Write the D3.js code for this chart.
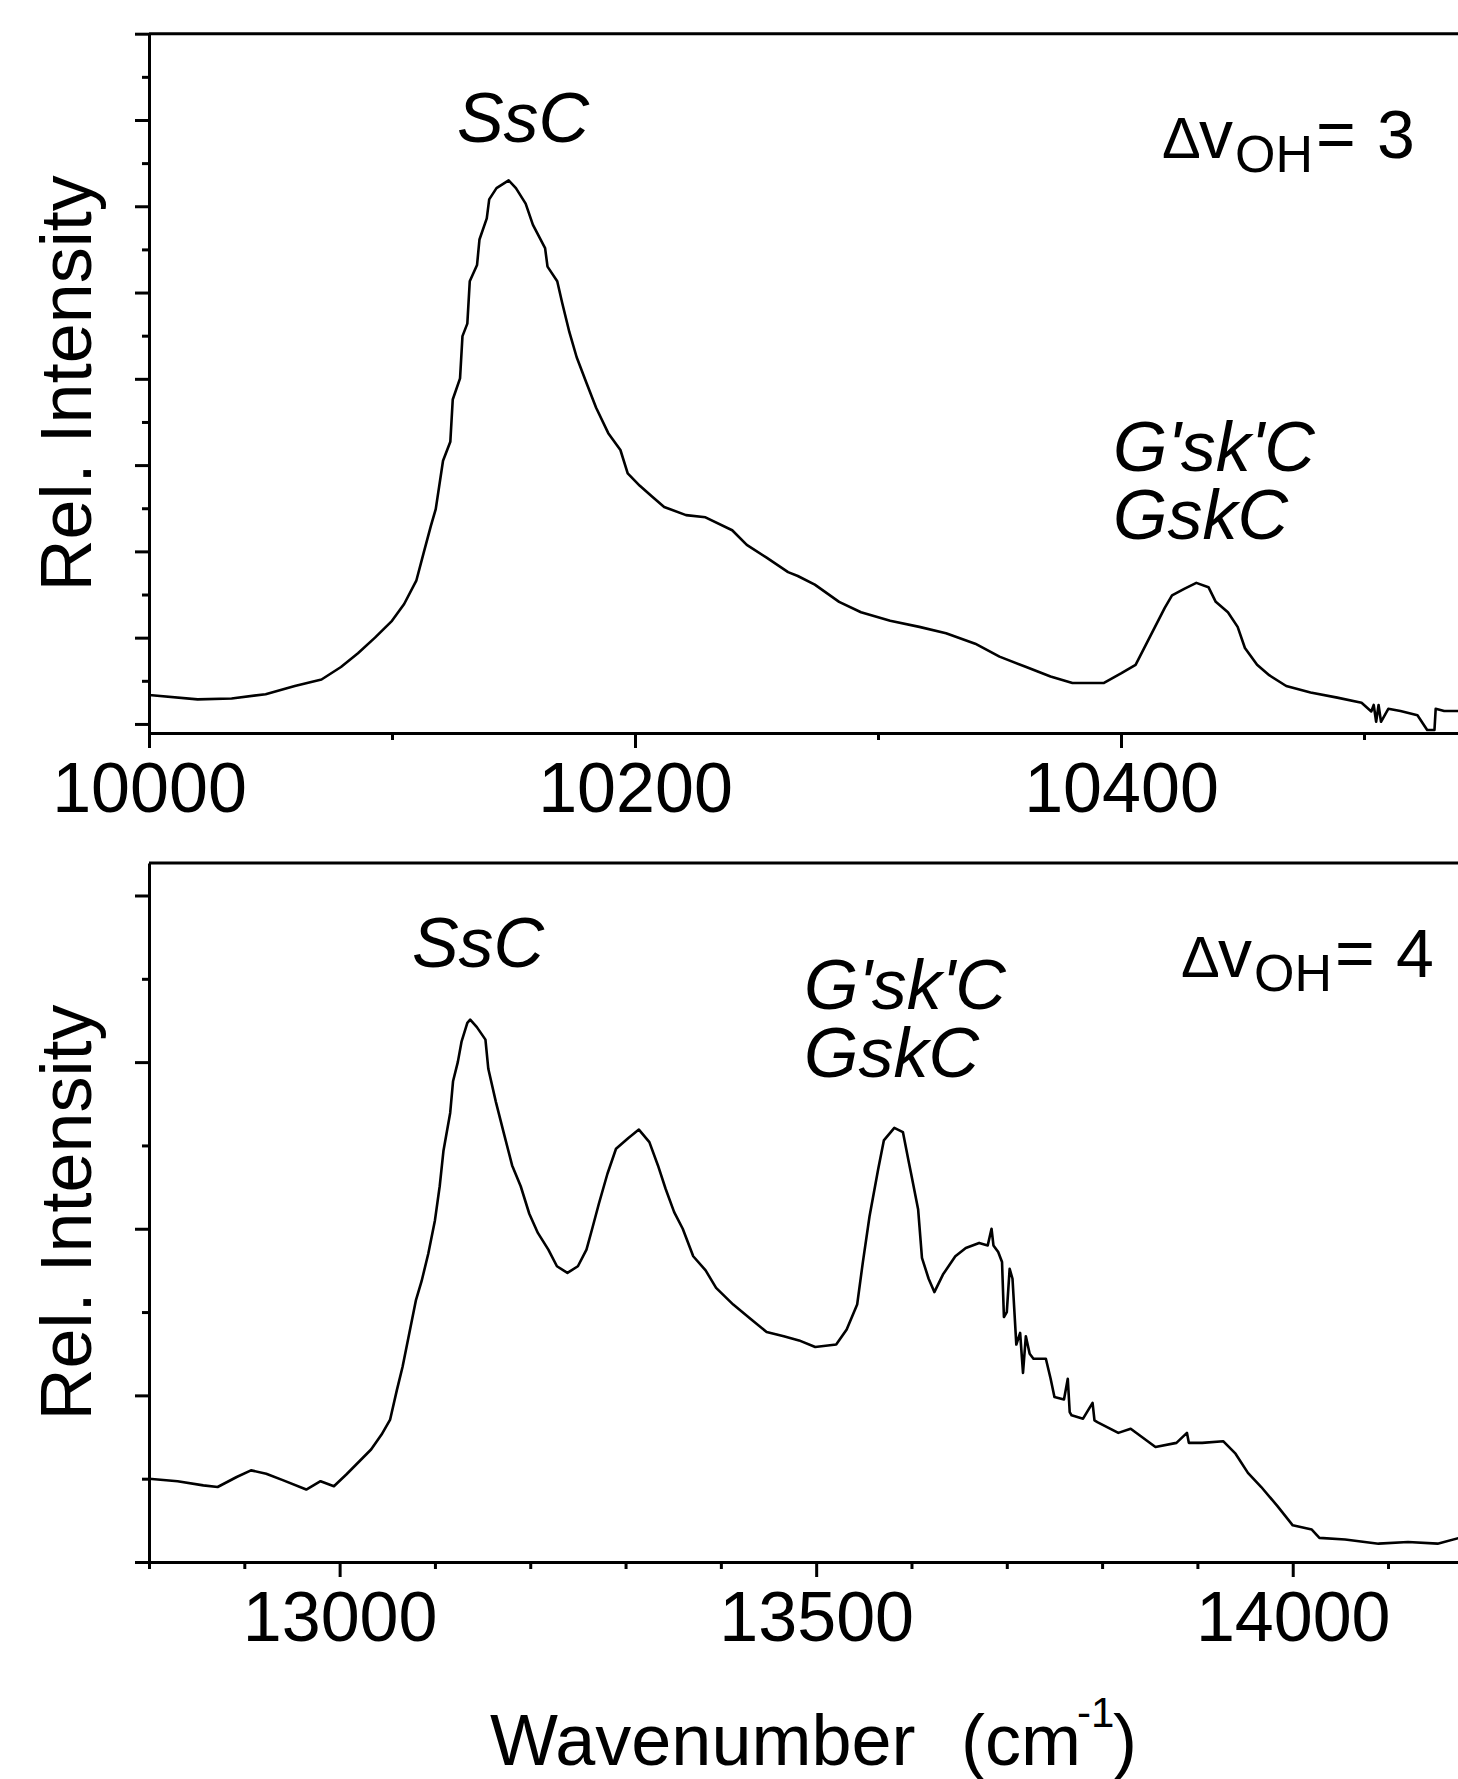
<!DOCTYPE html>
<html>
<head>
<meta charset="utf-8">
<script src="https://cdn.jsdelivr.net/npm/d3@7.9.0/dist/d3.min.js"></script>
<style>
  body { margin: 0; background: #fff; }
  svg { display: block; }
  text { font-family: "Liberation Sans", Arial, sans-serif; fill: #000; }
</style>
</head>
<body>
<div id="chart"></div>
<script>
// Δv_OH = 3 overtone spectrum (top panel)
const topWavenumber = [
  10000, 10020, 10034, 10048, 10060, 10071, 10079, 10086, 10093, 10100,
  10105, 10110, 10113, 10116, 10118, 10121, 10124, 10125, 10128, 10129,
  10131, 10132, 10135, 10136, 10139, 10140, 10143, 10148, 10151, 10155,
  10158, 10163, 10164, 10168, 10170, 10173, 10176, 10180, 10184, 10189,
  10194, 10197, 10202, 10207, 10212, 10221, 10229, 10240, 10246, 10254,
  10263, 10267, 10274, 10284, 10293, 10305, 10317, 10328, 10340, 10350,
  10361, 10371, 10380, 10393, 10400, 10406, 10410, 10414, 10418, 10421,
  10426, 10431, 10436, 10439, 10444, 10448, 10451, 10456, 10461, 10468,
  10478, 10489, 10499, 10503, 10504, 10505, 10506, 10507, 10510, 10515,
  10522, 10526, 10529, 10529.5, 10533, 10540
];
const topIntensity = [
  0.67, 0.57, 0.59, 0.69, 0.88, 1.03, 1.32, 1.64, 2.00, 2.39,
  2.78, 3.32, 3.96, 4.59, 4.98, 6.10, 6.54, 7.52, 8.01, 8.99,
  9.28, 10.26, 10.64, 11.23, 11.72, 12.16, 12.42, 12.60, 12.42, 12.06,
  11.57, 11.03, 10.60, 10.26, 9.77, 9.08, 8.50, 7.91, 7.33, 6.74,
  6.35, 5.81, 5.52, 5.27, 5.03, 4.84, 4.79, 4.49, 4.15, 3.86,
  3.52, 3.43, 3.23, 2.83, 2.59, 2.39, 2.25, 2.10, 1.86, 1.56,
  1.32, 1.10, 0.95, 0.95, 1.17, 1.37, 1.81, 2.25, 2.69, 2.98,
  3.13, 3.27, 3.17, 2.83, 2.59, 2.25, 1.76, 1.37, 1.13, 0.88,
  0.73, 0.61, 0.49, 0.29, 0.44, 0.05, 0.44, 0.05, 0.35, 0.30,
  0.20, -0.14, -0.14, 0.35, 0.30, 0.30
];

// Δv_OH = 4 overtone spectrum (bottom panel)
const bottomWavenumber = [
  12800, 12830, 12857, 12872, 12892, 12907, 12923, 12941, 12965, 12980,
  12994, 13007, 13020, 13033, 13044, 13053, 13060, 13066, 13073, 13080,
  13086, 13093, 13100, 13105, 13109, 13116, 13119, 13124, 13128, 13134,
  13137, 13144, 13153, 13156, 13164, 13172, 13181, 13190, 13199, 13208,
  13219, 13228, 13239, 13250, 13259, 13265, 13272, 13281, 13290, 13303,
  13314, 13325, 13334, 13342, 13351, 13360, 13371, 13384, 13395, 13413,
  13431, 13448, 13466, 13482, 13499, 13521, 13532, 13543, 13549, 13556,
  13565, 13571, 13582, 13591, 13597, 13600, 13607, 13611, 13618, 13624,
  13633, 13646, 13657, 13671, 13680, 13684, 13686, 13691, 13695, 13697,
  13700, 13703, 13706, 13710, 13714, 13717, 13720, 13724, 13728, 13741,
  13746, 13750, 13760, 13764, 13766, 13768, 13780, 13790, 13792, 13795,
  13817, 13830, 13856, 13878, 13889, 13891, 13905, 13927, 13940, 13953,
  13967, 13984, 14000, 14020, 14028, 14055, 14090, 14121, 14152, 14175
];
const bottomIntensity = [
  1.00, 0.97, 0.92, 0.90, 1.02, 1.10, 1.06, 0.98, 0.87, 0.97,
  0.91, 1.05, 1.20, 1.35, 1.53, 1.71, 2.06, 2.34, 2.74, 3.14,
  3.37, 3.70, 4.10, 4.51, 4.94, 5.39, 5.77, 6.00, 6.25, 6.47,
  6.51, 6.42, 6.27, 5.92, 5.52, 5.16, 4.76, 4.51, 4.18, 3.95,
  3.75, 3.55, 3.47, 3.55, 3.75, 4.00, 4.30, 4.66, 4.96, 5.09,
  5.19, 5.04, 4.76, 4.48, 4.20, 4.00, 3.67, 3.50, 3.29, 3.09,
  2.92, 2.76, 2.71, 2.66, 2.58, 2.61, 2.79, 3.09, 3.60, 4.15,
  4.71, 5.06, 5.21, 5.16, 4.81, 4.64, 4.23, 3.65, 3.40, 3.24,
  3.45, 3.67, 3.77, 3.83, 3.80, 4.00, 3.80, 3.72, 3.60, 2.94,
  3.00, 3.52, 3.40, 2.61, 2.75, 2.27, 2.71, 2.50, 2.44, 2.44,
  2.20, 1.98, 1.95, 2.20, 1.80, 1.76, 1.72, 1.91, 1.70, 1.68,
  1.55, 1.60, 1.38, 1.43, 1.55, 1.43, 1.43, 1.45, 1.30, 1.07,
  0.90, 0.67, 0.44, 0.39, 0.29, 0.27, 0.22, 0.24, 0.22, 0.29
];

// ticks
const topMajorX = [10000, 10200, 10400];
const topMinorX = [10100, 10300, 10500];
const bottomMajorX = [13000, 13500, 14000];
const bottomMinorX = [12800, 12900, 13100, 13200, 13300, 13400, 13600, 13700, 13800, 13900, 14100];
const topMajorY = [0, 2, 4, 6, 8, 10, 12, 14, 16];
const topMinorY = [1, 3, 5, 7, 9, 11, 13, 15];
const bottomMajorY = [0, 2, 4, 6, 8];
const bottomMinorY = [1, 3, 5, 7];

const width = 1458;
const height = 1779;
const font = '"Liberation Sans", Arial, sans-serif';

const svg = d3.select('#chart')
  .append('svg')
  .attr('width', width)
  .attr('height', height);

function drawPanel(p) {
  const x = d3.scaleLinear().domain(p.xDomain).range([149, 149 + (p.xDomain[1] - p.xDomain[0]) * p.pxPerX]);
  const y = d3.scaleLinear().domain(p.yDomain).range([p.bottom, p.top]);

  const g = svg.append('g');

  g.append('clipPath')
    .attr('id', p.id)
    .append('rect')
    .attr('x', 149)
    .attr('y', p.top)
    .attr('width', width - 149)
    .attr('height', p.bottom - p.top);

  const points = p.wn.map((d, i) => [d, p.val[i]]);
  g.append('path')
    .datum(points)
    .attr('clip-path', `url(#${p.id})`)
    .attr('fill', 'none')
    .attr('stroke', '#000')
    .attr('stroke-width', 2.6)
    .attr('stroke-linejoin', 'round')
    .attr('d', d3.line().x(d => x(d[0])).y(d => y(d[1])));

  // frame top line
  g.append('line')
    .attr('x1', 149).attr('x2', width)
    .attr('y1', p.top).attr('y2', p.top)
    .attr('stroke', '#000').attr('stroke-width', 3);

  // y axis
  g.append('g')
    .attr('transform', 'translate(149,0)')
    .call(d3.axisLeft(y).tickValues(p.majorY).tickSize(14).tickSizeOuter(0).tickFormat(''))
    .call(a => a.selectAll('path, line').attr('stroke-width', 3));
  g.append('g')
    .attr('transform', 'translate(149,0)')
    .call(d3.axisLeft(y).tickValues(p.minorY).tickSize(7).tickFormat(''))
    .call(a => a.select('.domain').remove())
    .call(a => a.selectAll('line').attr('stroke-width', 3));

  // x axis
  g.append('g')
    .attr('transform', `translate(0,${p.bottom})`)
    .call(d3.axisBottom(x).tickValues(p.majorX).tickSize(15).tickSizeOuter(0).tickFormat(d3.format('d')))
    .call(a => a.selectAll('path, line').attr('stroke-width', 3))
    .call(a => a.selectAll('text')
      .attr('y', 78.7)
      .attr('dy', 0)
      .attr('font-size', 70)
      .attr('font-family', font));
  g.append('g')
    .attr('transform', `translate(0,${p.bottom})`)
    .call(d3.axisBottom(x).tickValues(p.minorX).tickSize(7).tickFormat(''))
    .call(a => a.select('.domain').remove())
    .call(a => a.selectAll('line').attr('stroke-width', 3));

  // y title
  svg.append('text')
    .attr('transform', `translate(91,${(p.top + p.bottom) / 2}) rotate(-90)`)
    .attr('text-anchor', 'middle')
    .attr('font-size', 72)
    .text('Rel. Intensity');
}

drawPanel({
  id: 'clip-top',
  xDomain: [10000, 10540], pxPerX: 2.43,
  yDomain: [-0.21, 16], top: 33.7, bottom: 733,
  wn: topWavenumber, val: topIntensity,
  majorX: topMajorX, minorX: topMinorX,
  majorY: topMajorY, minorY: topMinorY,
});

drawPanel({
  id: 'clip-bottom',
  xDomain: [12800, 14180], pxPerX: 0.9531,
  yDomain: [0, 8.39], top: 863, bottom: 1562,
  wn: bottomWavenumber, val: bottomIntensity,
  majorX: bottomMajorX, minorX: bottomMinorX,
  majorY: bottomMajorY, minorY: bottomMinorY,
});

// peak labels
function italicLabel(x, y, lines, anchor) {
  const t = svg.append('text')
    .attr('x', x).attr('y', y)
    .attr('font-size', 70)
    .attr('font-style', 'italic')
    .attr('text-anchor', anchor || 'start');
  lines.forEach((line, i) => {
    t.append('tspan').attr('x', x).attr('dy', i === 0 ? 0 : 67.5).text(line);
  });
}
italicLabel(523, 142, ['SsC'], 'middle');
italicLabel(1113, 471, ["G'sk'C", 'GskC']);
italicLabel(478, 967, ['SsC'], 'middle');
italicLabel(804, 1009, ["G'sk'C", 'GskC']);

function deltaLabel(x, y, n) {
  const t = svg.append('text').attr('x', x).attr('y', y).attr('font-size', 68);
  t.append('tspan').attr('font-size', 58).text('Δ');
  t.append('tspan').attr('x', x + 37).text('v');
  t.append('tspan').attr('x', x + 73).attr('font-size', 52).attr('dy', 14).text('OH');
  t.append('tspan').attr('x', x + 154).attr('dy', -14).text('=');
  t.append('tspan').attr('x', x + 215).text(n);
}
deltaLabel(1162, 158, 3);
deltaLabel(1181, 977, 4);

// x title
const xt = svg.append('text').attr('x', 490).attr('y', 1765).attr('font-size', 72);
xt.append('tspan').text('Wavenumber');
xt.append('tspan').attr('x', 961).text('(cm');
xt.append('tspan').attr('x', 1077).attr('font-size', 42).attr('dy', -38).text('-1');
xt.append('tspan').attr('x', 1113).attr('dy', 38).text(')');
</script>
</body>
</html>
